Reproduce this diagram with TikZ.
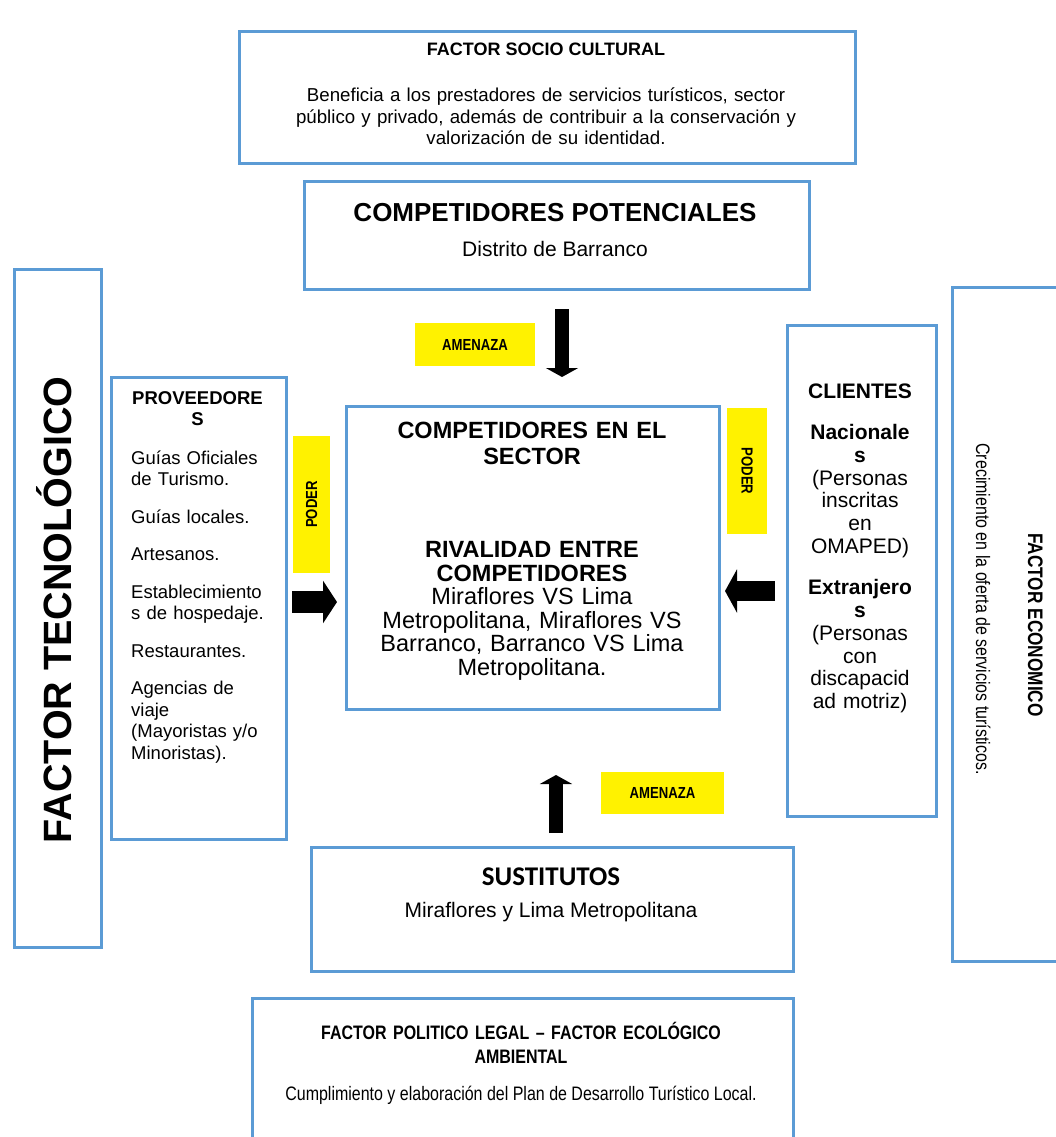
\documentclass[tikz,border=0pt]{standalone}
\usepackage{fontspec}
\setmainfont{Liberation Sans}
\newfontfamily\narrowf[FakeStretch=0.82]{Liberation Sans}
\newfontfamily\calib{Carlito}
\usetikzlibrary{arrows.meta}
\definecolor{boxblue}{HTML}{5B9BD5}
\newcommand\fsz[2]{\fontsize{#1}{#2}\selectfont}
\begin{document}
\begin{tikzpicture}[x=1pt,y=-1pt,
  box/.style={draw=boxblue, line width=2.8pt, fill=white, anchor=north west, inner sep=0pt},
  ybox/.style={fill=yellow, inner sep=0pt, font=\narrowf\bfseries\fsz{16}{18}},
  txt/.style={inner sep=0pt, anchor=base, align=center},
  blk/.style={line width=14pt, -{Triangle[length=9pt,width=32pt]}},
  blkh/.style={line width=22pt, -{Triangle[length=14pt,width=42pt]}}]
\useasboundingbox (0,0) rectangle (1056,1137);
\clip (0,0) rectangle (1056,1137);

% boxes
\node[box, minimum width=616pt, minimum height=132pt] (soc) at (238,30) {};
\node[box, minimum width=505pt, minimum height=108pt] (pot) at (303,180) {};
\node[box, minimum width=87pt, minimum height=678pt] (tec) at (13,268) {};
\node[box, minimum width=175pt, minimum height=462pt] (prov) at (110,376) {};
\node[box, minimum width=373pt, minimum height=303pt] (sec) at (345,405) {};
\node[box, minimum width=149pt, minimum height=491pt] (cli) at (786,324) {};
\node[box, minimum width=140pt, minimum height=674pt] (eco) at (951,286) {};
\node[box, minimum width=482pt, minimum height=124pt] (sus) at (310,846) {};
\node[box, minimum width=541pt, minimum height=170pt] (pol) at (251,997) {};

% yellow labels
\node[ybox, minimum width=120pt, minimum height=43pt] (am1) at (475,344.5) {AMENAZA};
\node[ybox, minimum width=123pt, minimum height=42pt] (am2) at (662.5,793) {AMENAZA};
\node[ybox, rotate=90, minimum width=137pt, minimum height=37pt] (pd1) at (311.5,504.5) {PODER};
\node[ybox, rotate=-90, minimum width=126pt, minimum height=40pt] (pd2) at (747,471) {PODER};

% arrows
\coordinate (a1s) at (562,309); \coordinate (a1e) at (562,377);
\coordinate (a2s) at (556,833); \coordinate (a2e) at (556,775);
\coordinate (a3s) at (292,602); \coordinate (a3e) at (337,602);
\coordinate (a4s) at (775,591); \coordinate (a4e) at (725,591);
\draw[blk] (a1s) -- (a1e);
\draw[blk] (a2s) -- (a2e);
\draw[blkh] (a3s) -- (a3e);
\draw[line width=20pt, -{Triangle[length=12pt,width=43pt]}] (a4s) -- (a4e);

% texts
\node[txt, font=\bfseries\fsz{18}{21}] (socT) at (546,56) {FACTOR SOCIO CULTURAL};
\node[txt, text width=610pt, font=\fsz{18.7}{21.5}] (socB) at (546,102)
  {Beneficia a los prestadores de servicios turísticos, sector\\público y privado, además de contribuir a la conservación y\\valorización de su identidad.};

\node[txt, font=\bfseries\fsz{26}{30}] (potT) at (555,221) {COMPETIDORES POTENCIALES};
\node[txt, font=\fsz{21}{24}] (potB) at (555,256) {Distrito de Barranco};

\node[txt, rotate=90, font=\bfseries\fsz{39.5}{42}] (tecT) at (71,610) {FACTOR TECNOLÓGICO};

\node[txt, text width=160pt, font=\bfseries\fsz{18.5}{21.5}] (provT) at (197.5,404) {PROVEEDORE\\S};
\node[inner sep=0pt, anchor=base west, text width=152pt, align=left, font=\fsz{18.5}{21.5}] (provB) at (131,464)
  {Guías Oficiales\\de Turismo.\\[16pt]Guías locales.\\[16pt]Artesanos.\\[16pt]Establecimiento\\s de hospedaje.\\[16pt]Restaurantes.\\[16pt]Agencias de\\viaje\\(Mayoristas y/o\\Minoristas).};

\node[txt, text width=370pt, font=\bfseries\fsz{23.5}{26.7}] (secT) at (532,438) {COMPETIDORES EN EL\\SECTOR};
\node[txt, text width=370pt, font=\fsz{23.5}{23.6}] (secR) at (532,557.5)
  {\textbf{RIVALIDAD ENTRE}\\\textbf{COMPETIDORES}\\Miraflores VS Lima\\Metropolitana, Miraflores VS\\Barranco, Barranco VS Lima\\Metropolitana.};

\node[txt, text width=145pt, font=\fsz{21}{22.7}] (cliB) at (860,398)
  {\textbf{CLIENTES}\\[19pt]\textbf{Nacionale}\\\textbf{s}\\(Personas\\inscritas\\en\\OMAPED)\\[19pt]\textbf{Extranjero}\\\textbf{s}\\(Personas\\con\\discapacid\\ad motriz)};

\node[txt, rotate=-90, font=\narrowf\bfseries\fsz{21}{24}] (ecoT) at (1028,625) {FACTOR ECONOMICO};
\node[txt, rotate=-90, font=\narrowf\fsz{19.5}{23}] (ecoB) at (976,609) {Crecimiento en la oferta de servicios turísticos.};

\node[txt, font=\calib\bfseries\fsz{27}{30}] (susT) at (551,885) {SUSTITUTOS};
\node[txt, font=\fsz{21}{24}] (susB) at (551,917) {Miraflores y Lima Metropolitana};

\node[txt, text width=530pt, font=\narrowf\bfseries\fsz{19.5}{24}] (polT) at (521,1039) {FACTOR POLITICO LEGAL – FACTOR ECOLÓGICO\\AMBIENTAL};
\node[txt, font=\narrowf\fsz{19.5}{24}] (polB) at (521,1100) {Cumplimiento y elaboración del Plan de Desarrollo Turístico Local.};
\end{tikzpicture}
\end{document}
